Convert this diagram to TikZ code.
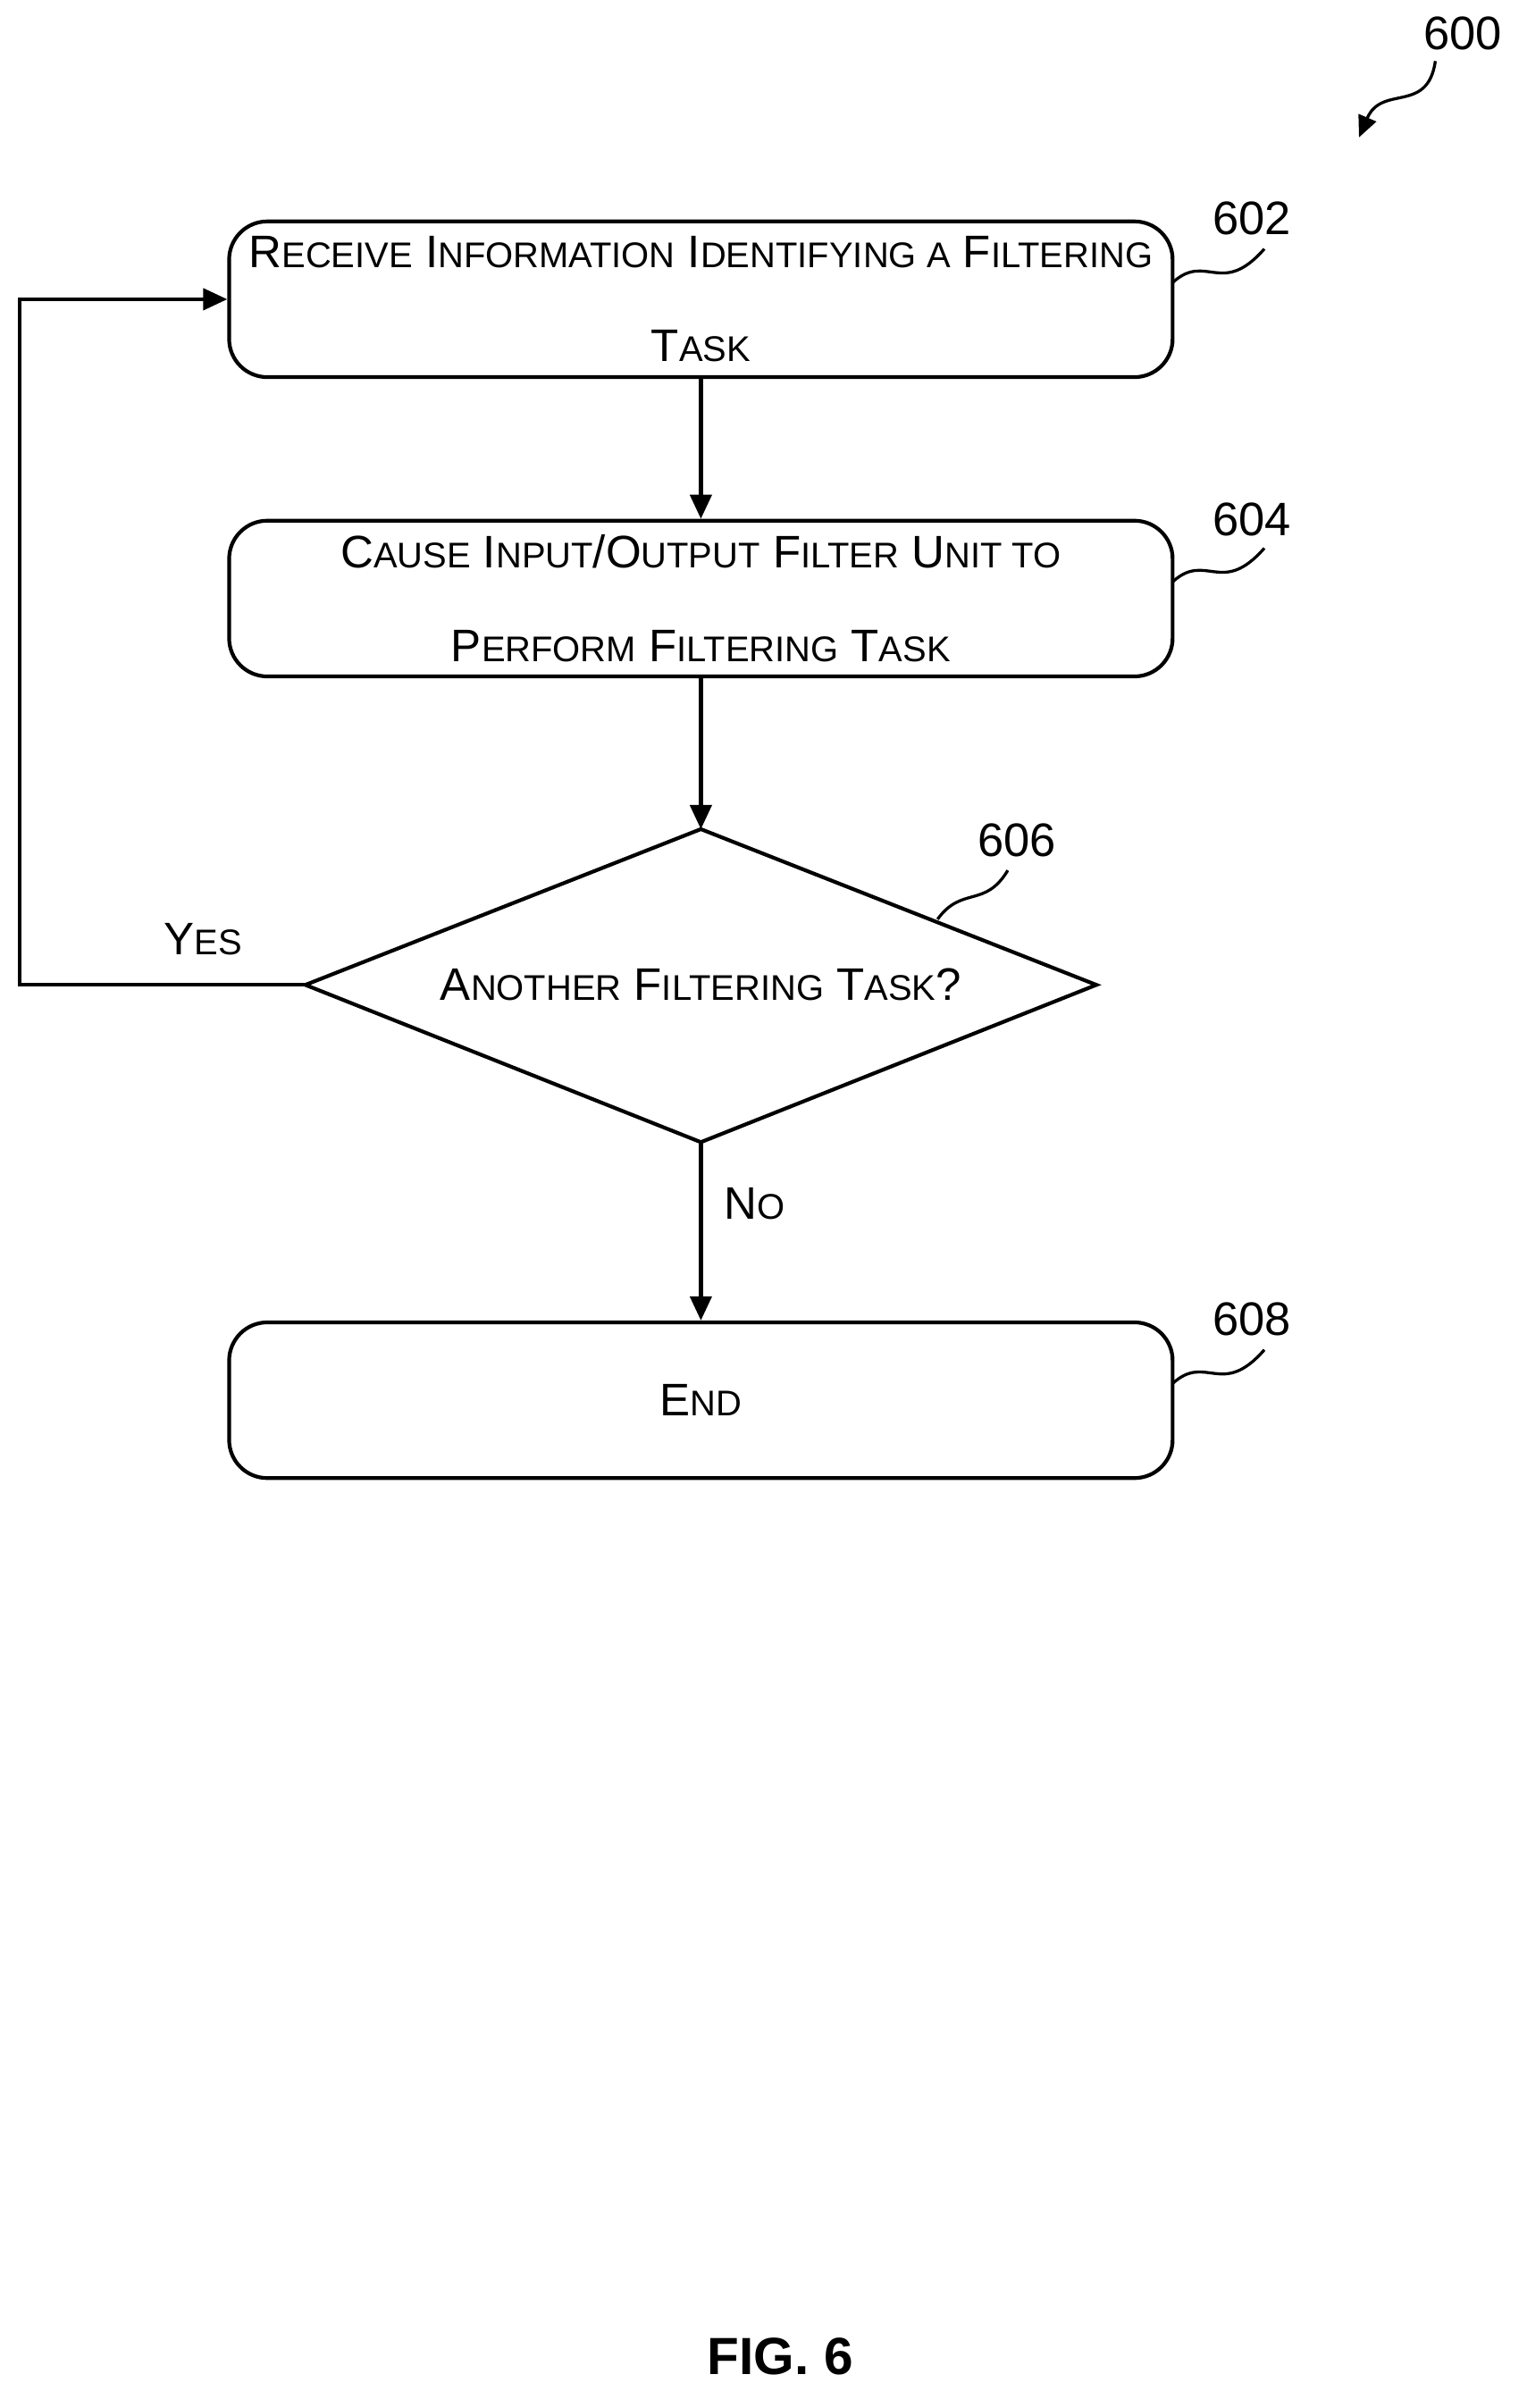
\documentclass[tikz,border=0pt]{standalone}
\usepackage{fontspec}
\setmainfont{Liberation Sans}
\usetikzlibrary{shapes.geometric,arrows.meta}
\newcommand{\Cp}[2]{{\fontsize{17}{35}\selectfont #1}{\fontsize{13.3}{35}\selectfont #2}}
\begin{document}
\begin{tikzpicture}[x=0.02cm,y=-0.02cm,
  every node/.style={font=\fontsize{17}{35}\selectfont},
  box/.style={draw,line width=1.4pt,rounded corners=0.5cm,minimum width=12.36cm,minimum height=2.04cm,align=center,inner sep=0},
  arr/.style={line width=1.4pt,-{Triangle[length=9pt,width=8pt]}},
  lab/.style={font=\fontsize{17.5}{20}\selectfont},
  sq/.style={line width=1.1pt}]
\useasboundingbox (0,0) rectangle (1000,1577);
\node[box] (b602) at (459,196) {\Cp{R}{ECEIVE} \Cp{I}{NFORMATION} \Cp{I}{DENTIFYING A} \Cp{F}{ILTERING}\\\Cp{T}{ASK}};
\node[box] (b604) at (459,392) {\Cp{C}{AUSE} \Cp{I}{NPUT}/\Cp{O}{UTPUT} \Cp{F}{ILTER} \Cp{U}{NIT TO}\\\Cp{P}{ERFORM} \Cp{F}{ILTERING} \Cp{T}{ASK}};
\coordinate (dn) at (459,543); \coordinate (ds) at (459,748);
\coordinate (dw) at (200,645); \coordinate (de) at (718,645);
\draw[line width=1.4pt] (dn) -- (de) -- (ds) -- (dw) -- cycle;
\node (d606) at (459,645) {\Cp{A}{NOTHER} \Cp{F}{ILTERING} \Cp{T}{ASK}?};
\node[box] (b608) at (459,917) {\Cp{E}{ND}};
\draw[arr] (b602) -- (b604);
\draw[arr] (b604) -- (dn);
\draw[arr] (ds) -- (b608);
\coordinate (lb) at (13,645); \coordinate (lt) at (13,196);
\draw[arr] (dw) -- (lb) -- (lt) -- (b602.west);
\node (yes) at (133,615) {\Cp{Y}{ES}};
\node (no) at (494,788) {\Cp{N}{O}};
\node[lab] (l602) at (820,143) {602};
\node[lab] (l604) at (820,340) {604};
\node[lab] (l606) at (666,550) {606};
\node[lab] (l608) at (820,864) {608};
\node[lab] (l600) at (958,22) {600};
\draw[sq] (768,185) .. controls (790,165) and (800,195) .. (828,163);
\draw[sq] (768,381) .. controls (790,361) and (800,391) .. (828,359);
\draw[sq] (768,906) .. controls (790,886) and (800,916) .. (828,884);
\draw[sq] (614,602) .. controls (630,580) and (645,595) .. (660,570);
\coordinate (a600) at (890,90);
\draw[sq,-{Triangle[length=8pt,width=7pt]}] (940,40) .. controls (935,75) and (905,55) .. (a600);
\node[font=\bfseries\fontsize{19.5}{22}\selectfont] (fig) at (511,1543) {FIG. 6};
\end{tikzpicture}
\end{document}
